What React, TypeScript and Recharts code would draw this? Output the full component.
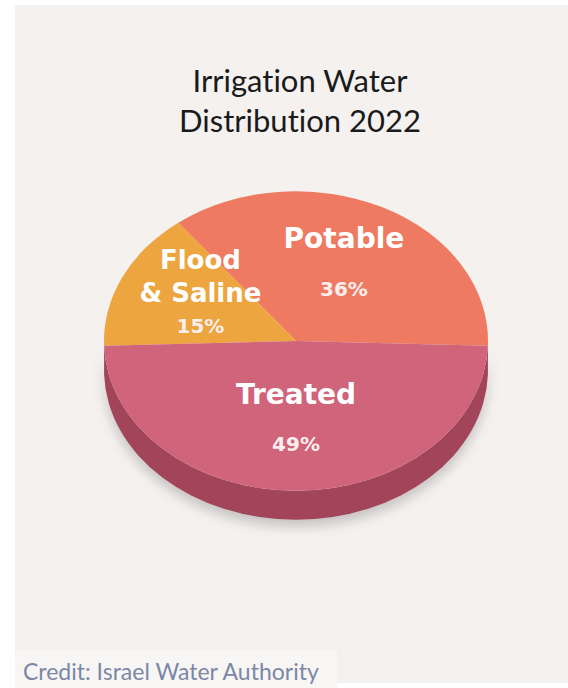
import React from 'react';
import { PieChart, Pie, Cell } from 'recharts';

const categories = ['Potable', 'Flood & Saline', 'Treated'];
const shares = [36, 15, 49];
const labelLines = [['Potable'], ['Flood', '& Saline'], ['Treated']];

const data = categories.map((name, i) => ({ name, value: shares[i] }));

const TOP_COLORS = ['#ee7b61', '#eca53f', '#d0647a'];
const SIDE_COLORS = ['#b8533f', '#b87a2a', '#a2445a'];

const RAD = Math.PI / 180;
const SQUASH = 0.78; // ry / rx of the tilted disc
const DEPTH = 29;
const LABEL_R = 0.55;
const LIFT = 4;

const pt = (cx: number, cy: number, rx: number, ry: number, deg: number) => [
  cx + rx * Math.cos(-deg * RAD),
  cy + ry * Math.sin(-deg * RAD),
];

const TiltedSector = (props: any) => {
  const { cx, cy, outerRadius, startAngle, endAngle, fill } = props;
  const rx = outerRadius;
  const ry = outerRadius * SQUASH;
  const s = Math.min(startAngle, endAngle);
  const e = Math.max(startAngle, endAngle);
  const [x1, y1] = pt(cx, cy, rx, ry, s);
  const [x2, y2] = pt(cx, cy, rx, ry, e);
  const large = e - s > 180 ? 1 : 0;
  const top = `M${cx},${cy} L${x1},${y1} A${rx},${ry} 0 ${large} 0 ${x2},${y2} Z`;

  const idx = TOP_COLORS.indexOf(fill);
  const side = SIDE_COLORS[idx >= 0 ? idx : 2];

  // parts of the slice on the near (lower) half get a visible rim
  const rims: string[] = [];
  [-360, 0, 360].forEach((k) => {
    const a = Math.max(s, 180 + k);
    const b = Math.min(e, 360 + k);
    if (b - a > 0.01) {
      const [ax, ay] = pt(cx, cy, rx, ry, a);
      const [bx, by] = pt(cx, cy, rx, ry, b);
      const lg = b - a > 180 ? 1 : 0;
      rims.push(
        `M${ax},${ay} A${rx},${ry} 0 ${lg} 0 ${bx},${by} L${bx},${by + DEPTH} A${rx},${ry} 0 ${lg} 1 ${ax},${ay + DEPTH} Z`
      );
    }
  });

  return (
    <g>
      {rims.map((d, i) => (
        <path
          key={i}
          d={d}
          fill={side}
          style={{ filter: 'drop-shadow(0px 7px 6px rgba(60,60,60,0.25))' }}
        />
      ))}
      <path d={top} fill={fill} />
    </g>
  );
};

const renderLabel = (props: any) => {
  const { cx, cy, midAngle, outerRadius, index, value } = props;
  const [x, y0c] = pt(cx, cy, outerRadius * LABEL_R, outerRadius * SQUASH * LABEL_R, midAngle);
  const lines = labelLines[index];
  const multi = lines.length > 1;
  // the small wedge's stacked label sits a little higher up in the slice
  const y = y0c - LIFT - (multi ? 9 : 0);
  const nameSize = multi ? 26 : 28;
  const step = multi ? 33 : 50;
  const rows = [...lines, `${value}%`];
  const y0 = y - ((rows.length - 1) * step) / 2;
  return (
    <g>
      {rows.map((t, i) => {
        const isPct = i === rows.length - 1;
        return (
          <text
            key={i}
            x={x}
            y={y0 + i * step}
            textAnchor="middle"
            dominantBaseline="central"
            fill={isPct ? '#fbeeee' : '#ffffff'}
            fontFamily="DejaVu Sans"
            fontWeight="bold"
            fontSize={isPct ? 20 : nameSize}
          >
            {t}
          </text>
        );
      })}
    </g>
  );
};

export default function App() {
  return (
    <div style={{ position: 'absolute', left: 0, top: 0, width: 568, height: 688, background: '#ffffff', overflow: 'hidden' }}>
      <div style={{ position: 'absolute', left: 15, top: 5, width: 553, height: 678, background: '#f4f1ef' }} />
      <div style={{ position: 'absolute', left: 15, top: 650, width: 322, height: 38, background: '#f7f6f5' }} />
      <div
        style={{
          position: 'absolute',
          left: 100,
          top: 60,
          width: 400,
          textAlign: 'center',
          fontFamily: 'Lato',
          fontSize: 31,
          lineHeight: '40px',
          color: '#1a1a1a',
          fontVariantLigatures: 'none',
        }}
      >
        Irrigation Water
        <br />
        Distribution 2022
      </div>
      <div style={{ position: 'absolute', left: 0, top: 0 }}>
        <PieChart width={568} height={640} margin={{ top: 0, right: 0, bottom: 0, left: 0 }}>
          <Pie
            data={data}
            dataKey="value"
            nameKey="name"
            cx={296}
            cy={341}
            outerRadius={192}
            startAngle={-1.8}
            endAngle={358.2}
            stroke="none"
            shape={TiltedSector}
            label={renderLabel}
            labelLine={false}
            isAnimationActive={false}
          >
            {data.map((d, i) => (
              <Cell key={d.name} fill={TOP_COLORS[i]} />
            ))}
          </Pie>
        </PieChart>
      </div>
      <div
        style={{
          position: 'absolute',
          left: 23,
          top: 657,
          fontFamily: 'Lato',
          fontSize: 23,
          lineHeight: '28px',
          color: '#7c87a6',
          whiteSpace: 'nowrap',
          fontVariantLigatures: 'none',
        }}
      >
        Credit: Israel Water Authority
      </div>
    </div>
  );
}
